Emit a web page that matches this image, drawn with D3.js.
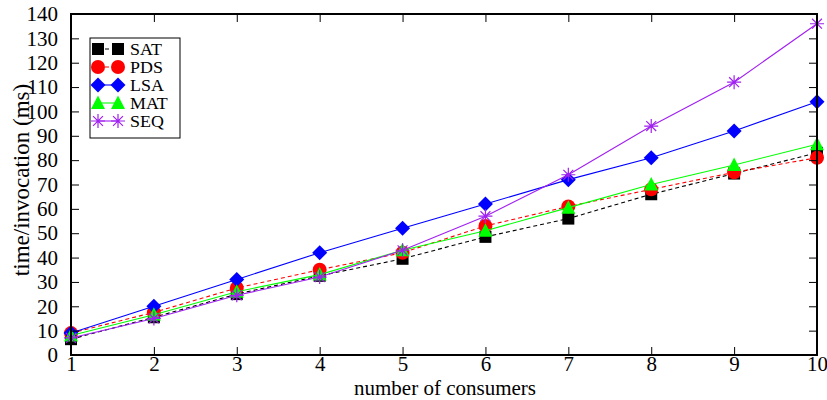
<!DOCTYPE html>
<html>
<head>
<meta charset="utf-8">
<script src="https://cdn.jsdelivr.net/npm/d3@7"></script>
<style>
  html, body { margin: 0; padding: 0; background: #fff; }
  text { font-family: "Liberation Serif", "Times New Roman", serif; fill: #000; }
</style>
</head>
<body>
<svg id="chart" width="827" height="400"></svg>
<script>
// Consumers on the x axis
const consumers = [1, 2, 3, 4, 5, 6, 7, 8, 9, 10];

// Time per invocation (ms) for each scheme
const sat = [6.5, 15.5, 25, 32.5, 39.5, 48.5, 56, 66, 74.5, 83];
const pds = [9, 17.5, 27.5, 35, 42, 53, 61, 68, 75, 81];
const lsa = [9, 20, 31, 42, 52, 62, 72, 81, 92, 104];
const mat = [8, 16.5, 26, 33, 43, 51, 60.5, 70, 78, 86.5];
const seq = [7, 15, 24.5, 32, 43, 57, 74, 94, 112, 136];

const seriesNames = ["SAT", "PDS", "LSA", "MAT", "SEQ"];
const yTicks = [0, 10, 20, 30, 40, 50, 60, 70, 80, 90, 100, 110, 120, 130, 140];

const series = [
  { name: "SAT", values: sat, color: "#000000", dash: "4,3", symbol: "square" },
  { name: "PDS", values: pds, color: "#ff0000", dash: "4,3", symbol: "circle" },
  { name: "LSA", values: lsa, color: "#0000ff", dash: null, symbol: "diamond" },
  { name: "MAT", values: mat, color: "#00ff00", dash: null, symbol: "triangle" },
  { name: "SEQ", values: seq, color: "#a020f0", dash: null, symbol: "star" }
];

const svg = d3.select("#chart");
const plotL = 71, plotR = 817, plotT = 14, plotB = 355;

const x = d3.scaleLinear().domain([1, 10]).range([plotL, plotR]);
const y = d3.scaleLinear().domain([0, 140]).range([plotB, plotT]);

// Marker shapes drawn around (0,0)
function drawSymbol(g, type, color) {
  if (type === "square") {
    g.append("rect").attr("x", -6).attr("y", -6).attr("width", 12).attr("height", 12).attr("fill", color);
  } else if (type === "circle") {
    g.append("circle").attr("r", 7).attr("fill", color);
  } else if (type === "diamond") {
    g.append("path").attr("d", "M0,-7.5L7.5,0L0,7.5L-7.5,0Z").attr("fill", color);
  } else if (type === "triangle") {
    g.append("path").attr("d", "M0,-7.5L7,6L-7,6Z").attr("fill", color);
  } else if (type === "star") {
    const r = 7;
    const d = [0, 45, 90, 135].map(a => {
      const t = a * Math.PI / 180;
      return `M${-r * Math.cos(t)},${-r * Math.sin(t)}L${r * Math.cos(t)},${r * Math.sin(t)}`;
    }).join("");
    g.append("path").attr("d", d).attr("stroke", color).attr("stroke-width", 1.2).attr("fill", "none");
  }
}

// Data lines and markers, one series at a time
const line = d3.line().x((d, i) => x(consumers[i])).y(d => y(d));
series.forEach(s => {
  svg.append("path")
    .attr("d", line(s.values))
    .attr("fill", "none")
    .attr("stroke", s.color)
    .attr("stroke-width", 1.1)
    .attr("stroke-dasharray", s.dash);
  s.values.forEach((v, i) => {
    const g = svg.append("g").attr("transform", `translate(${x(consumers[i])},${y(v)})`);
    drawSymbol(g, s.symbol, s.color);
  });
});

// Axes: ticks pointing inward on all four sides
const axisBottom = d3.axisBottom(x).tickValues(consumers).tickSize(-8).tickPadding(1).tickFormat(d3.format("d"));
const axisTop = d3.axisTop(x).tickValues(consumers).tickSize(-8).tickFormat("");
const axisLeft = d3.axisLeft(y).tickValues(yTicks).tickSize(-8).tickPadding(13).tickFormat(d3.format("d"));
const axisRight = d3.axisRight(y).tickValues(yTicks).tickSize(-8).tickFormat("");

function styleAxis(g) {
  g.select(".domain").remove();
  g.selectAll(".tick line").attr("stroke", "#000").attr("stroke-width", 1);
  g.selectAll("text").style("font-family", "'Liberation Serif', serif").style("font-size", "21px").attr("fill", "#000");
}

svg.append("g").attr("transform", `translate(0,${plotB})`).call(axisBottom).call(styleAxis);
svg.append("g").attr("transform", `translate(0,${plotT})`).call(axisTop).call(styleAxis);
svg.append("g").attr("transform", `translate(${plotL},0)`).call(axisLeft).call(styleAxis);
svg.append("g").attr("transform", `translate(${plotR},0)`).call(axisRight).call(styleAxis);

// Frame
svg.append("rect")
  .attr("x", plotL).attr("y", plotT)
  .attr("width", plotR - plotL).attr("height", plotB - plotT)
  .attr("fill", "none").attr("stroke", "#000").attr("stroke-width", 2);

// Axis titles
svg.append("text")
  .attr("x", 445).attr("y", 395)
  .attr("text-anchor", "middle")
  .style("font-size", "21px")
  .text("number of consumers");

svg.append("text")
  .attr("transform", "translate(29,180) rotate(-90)")
  .attr("text-anchor", "middle")
  .style("font-size", "23px")
  .text("time/invocation (ms)");

// Legend
const legend = svg.append("g");
legend.append("rect")
  .attr("x", 90).attr("y", 38).attr("width", 90).attr("height", 100)
  .attr("fill", "#fff").attr("stroke", "#000").attr("stroke-width", 1);

series.forEach((s, i) => {
  const cy = 49 + i * 18;
  legend.append("line")
    .attr("x1", 98).attr("x2", 118).attr("y1", cy).attr("y2", cy)
    .attr("stroke", s.color).attr("stroke-width", 1.1)
    .attr("stroke-dasharray", s.dash);
  drawSymbol(legend.append("g").attr("transform", `translate(98,${cy})`), s.symbol, s.color);
  drawSymbol(legend.append("g").attr("transform", `translate(118,${cy})`), s.symbol, s.color);
  legend.append("text")
    .attr("transform", `translate(130,${cy + 5.5}) scale(1.12,1)`)
    .style("font-size", "16px")
    .text(seriesNames[i]);
});
</script>
</body>
</html>
